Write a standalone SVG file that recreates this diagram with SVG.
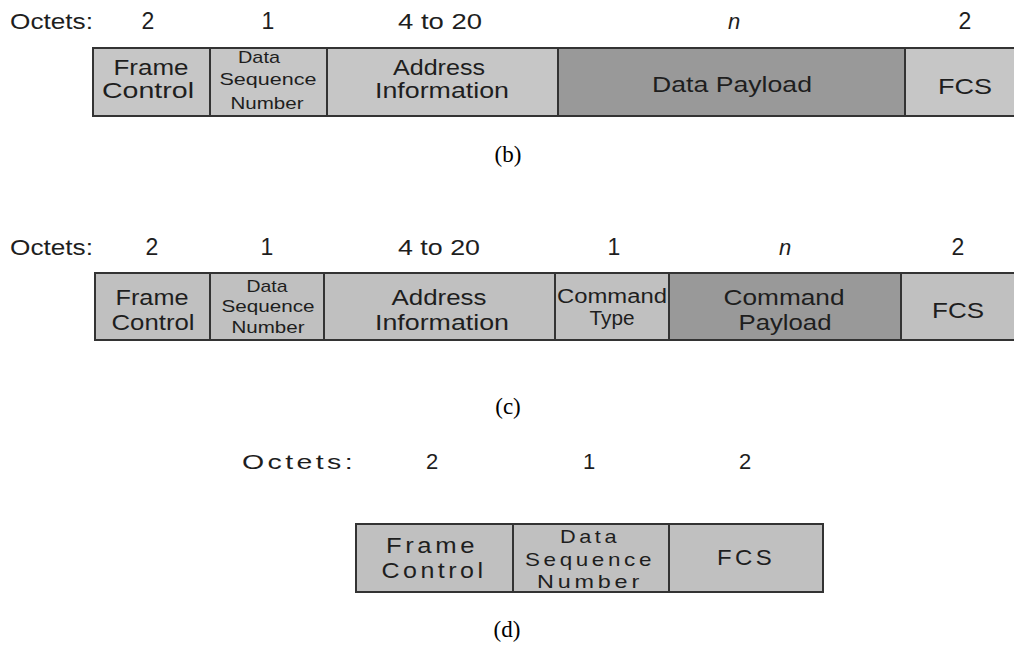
<svg xmlns="http://www.w3.org/2000/svg" width="1014" height="646" viewBox="0 0 1014 646">
<style>
.bg{fill:#ffffff}
.lt{fill:#c6c6c6;stroke:#333333;stroke-width:2}
.lt2{fill:#c0c0c0;stroke:#333333;stroke-width:2}
.dk{fill:#999999;stroke:#333333;stroke-width:2}
.t{font-family:"Liberation Sans",Arial,sans-serif;fill:#1e1e1e;text-anchor:middle}
.oc{font-family:"Liberation Sans",Arial,sans-serif;fill:#1e1e1e}
.it{font-style:italic}
.cap{font-family:"Liberation Serif","Times New Roman",serif;font-size:23px;fill:#000;text-anchor:middle}
</style>
<rect class="bg" x="0" y="0" width="1014" height="646"/>

<!-- Frame (b) -->
<g id="row-b">
  <g id="b-octets">
    <text class="oc" x="10" y="29" font-size="22" textLength="83" lengthAdjust="spacingAndGlyphs">Octets:</text>
    <text class="t" x="148" y="29" font-size="23">2</text>
    <text class="t" x="268" y="29" font-size="23">1</text>
    <text class="t" x="440" y="29" font-size="22" textLength="84" lengthAdjust="spacingAndGlyphs">4 to 20</text>
    <text class="t it" x="734" y="29" font-size="22">n</text>
    <text class="t" x="965" y="29" font-size="23">2</text>
  </g>
  <g id="b-frame-control">
    <rect class="lt" x="93" y="48" width="117" height="68"/>
    <text class="t" x="151" y="75" font-size="22" textLength="75" lengthAdjust="spacingAndGlyphs">Frame</text>
    <text class="t" x="148" y="98" font-size="22" textLength="92" lengthAdjust="spacingAndGlyphs">Control</text>
  </g>
  <g id="b-dsn">
    <rect class="lt" x="210" y="48" width="117" height="68"/>
    <text class="t" x="259" y="63" font-size="17" textLength="42" lengthAdjust="spacingAndGlyphs">Data</text>
    <text class="t" x="268" y="85" font-size="17" textLength="97" lengthAdjust="spacingAndGlyphs">Sequence</text>
    <text class="t" x="267" y="109" font-size="17" textLength="73" lengthAdjust="spacingAndGlyphs">Number</text>
  </g>
  <g id="b-address">
    <rect class="lt" x="327" y="48" width="231" height="68"/>
    <text class="t" x="439" y="75" font-size="22" textLength="92" lengthAdjust="spacingAndGlyphs">Address</text>
    <text class="t" x="442" y="98" font-size="22" textLength="134" lengthAdjust="spacingAndGlyphs">Information</text>
  </g>
  <g id="b-payload">
    <rect class="dk" x="558" y="48" width="347" height="68"/>
    <text class="t" x="732" y="92" font-size="22" textLength="160" lengthAdjust="spacingAndGlyphs">Data Payload</text>
  </g>
  <g id="b-fcs">
    <rect class="lt" x="905" y="48" width="120" height="68"/>
    <text class="t" x="965" y="94" font-size="22" textLength="54" lengthAdjust="spacingAndGlyphs">FCS</text>
  </g>
  <text class="cap" x="508" y="162">(b)</text>
</g>

<!-- Frame (c) -->
<g id="row-c">
  <g id="c-octets">
    <text class="oc" x="10" y="255" font-size="22" textLength="83" lengthAdjust="spacingAndGlyphs">Octets:</text>
    <text class="t" x="152" y="255" font-size="23">2</text>
    <text class="t" x="267" y="255" font-size="23">1</text>
    <text class="t" x="439" y="255" font-size="22" textLength="82" lengthAdjust="spacingAndGlyphs">4 to 20</text>
    <text class="t" x="614" y="255" font-size="23">1</text>
    <text class="t it" x="785" y="255" font-size="22">n</text>
    <text class="t" x="958" y="255" font-size="23">2</text>
  </g>
  <g id="c-frame-control">
    <rect class="lt2" x="95" y="273" width="115" height="67"/>
    <text class="t" x="152" y="305" font-size="22" textLength="73" lengthAdjust="spacingAndGlyphs">Frame</text>
    <text class="t" x="153" y="330" font-size="22" textLength="83" lengthAdjust="spacingAndGlyphs">Control</text>
  </g>
  <g id="c-dsn">
    <rect class="lt2" x="210" y="273" width="114" height="67"/>
    <text class="t" x="267" y="292" font-size="17" textLength="41" lengthAdjust="spacingAndGlyphs">Data</text>
    <text class="t" x="268" y="312" font-size="17" textLength="93" lengthAdjust="spacingAndGlyphs">Sequence</text>
    <text class="t" x="268" y="333" font-size="17" textLength="73" lengthAdjust="spacingAndGlyphs">Number</text>
  </g>
  <g id="c-address">
    <rect class="lt2" x="324" y="273" width="231" height="67"/>
    <text class="t" x="439" y="305" font-size="22" textLength="95" lengthAdjust="spacingAndGlyphs">Address</text>
    <text class="t" x="442" y="330" font-size="22" textLength="134" lengthAdjust="spacingAndGlyphs">Information</text>
  </g>
  <g id="c-command-type">
    <rect class="lt2" x="555" y="273" width="114" height="67"/>
    <text class="t" x="612" y="303" font-size="20" textLength="110" lengthAdjust="spacingAndGlyphs">Command</text>
    <text class="t" x="612" y="325" font-size="20" textLength="45" lengthAdjust="spacingAndGlyphs">Type</text>
  </g>
  <g id="c-command-payload">
    <rect class="dk" x="669" y="273" width="232" height="67"/>
    <text class="t" x="784" y="305" font-size="22" textLength="121" lengthAdjust="spacingAndGlyphs">Command</text>
    <text class="t" x="785" y="330" font-size="22" textLength="93" lengthAdjust="spacingAndGlyphs">Payload</text>
  </g>
  <g id="c-fcs">
    <rect class="lt2" x="901" y="273" width="124" height="67"/>
    <text class="t" x="958" y="318" font-size="22" textLength="52" lengthAdjust="spacingAndGlyphs">FCS</text>
  </g>
  <text class="cap" x="508" y="414">(c)</text>
</g>

<!-- Frame (d) -->
<g id="row-d">
  <g id="d-octets">
    <text class="oc" x="242" y="469" font-size="21" letter-spacing="2.5" textLength="114" lengthAdjust="spacingAndGlyphs">Octets:</text>
    <text class="t" x="432" y="469" font-size="22">2</text>
    <text class="t" x="589" y="469" font-size="22">1</text>
    <text class="t" x="745" y="469" font-size="22">2</text>
  </g>
  <g id="d-frame-control">
    <rect class="lt2" x="356" y="524" width="157" height="68"/>
    <text class="t" x="432" y="553" font-size="21.5" letter-spacing="3" textLength="92" lengthAdjust="spacingAndGlyphs">Frame</text>
    <text class="t" x="434" y="578" font-size="21.5" letter-spacing="3" textLength="105" lengthAdjust="spacingAndGlyphs">Control</text>
  </g>
  <g id="d-dsn">
    <rect class="lt2" x="513" y="524" width="156" height="68"/>
    <text class="t" x="590" y="543" font-size="18.5" letter-spacing="3" textLength="60" lengthAdjust="spacingAndGlyphs">Data</text>
    <text class="t" x="590" y="566" font-size="18.5" letter-spacing="3" textLength="130" lengthAdjust="spacingAndGlyphs">Sequence</text>
    <text class="t" x="590" y="588" font-size="18.5" letter-spacing="3" textLength="106" lengthAdjust="spacingAndGlyphs">Number</text>
  </g>
  <g id="d-fcs">
    <rect class="lt2" x="669" y="524" width="154" height="68"/>
    <text class="t" x="746" y="565" font-size="21.5" letter-spacing="3" textLength="58" lengthAdjust="spacingAndGlyphs">FCS</text>
  </g>
  <text class="cap" x="507" y="637">(d)</text>
</g>
</svg>
